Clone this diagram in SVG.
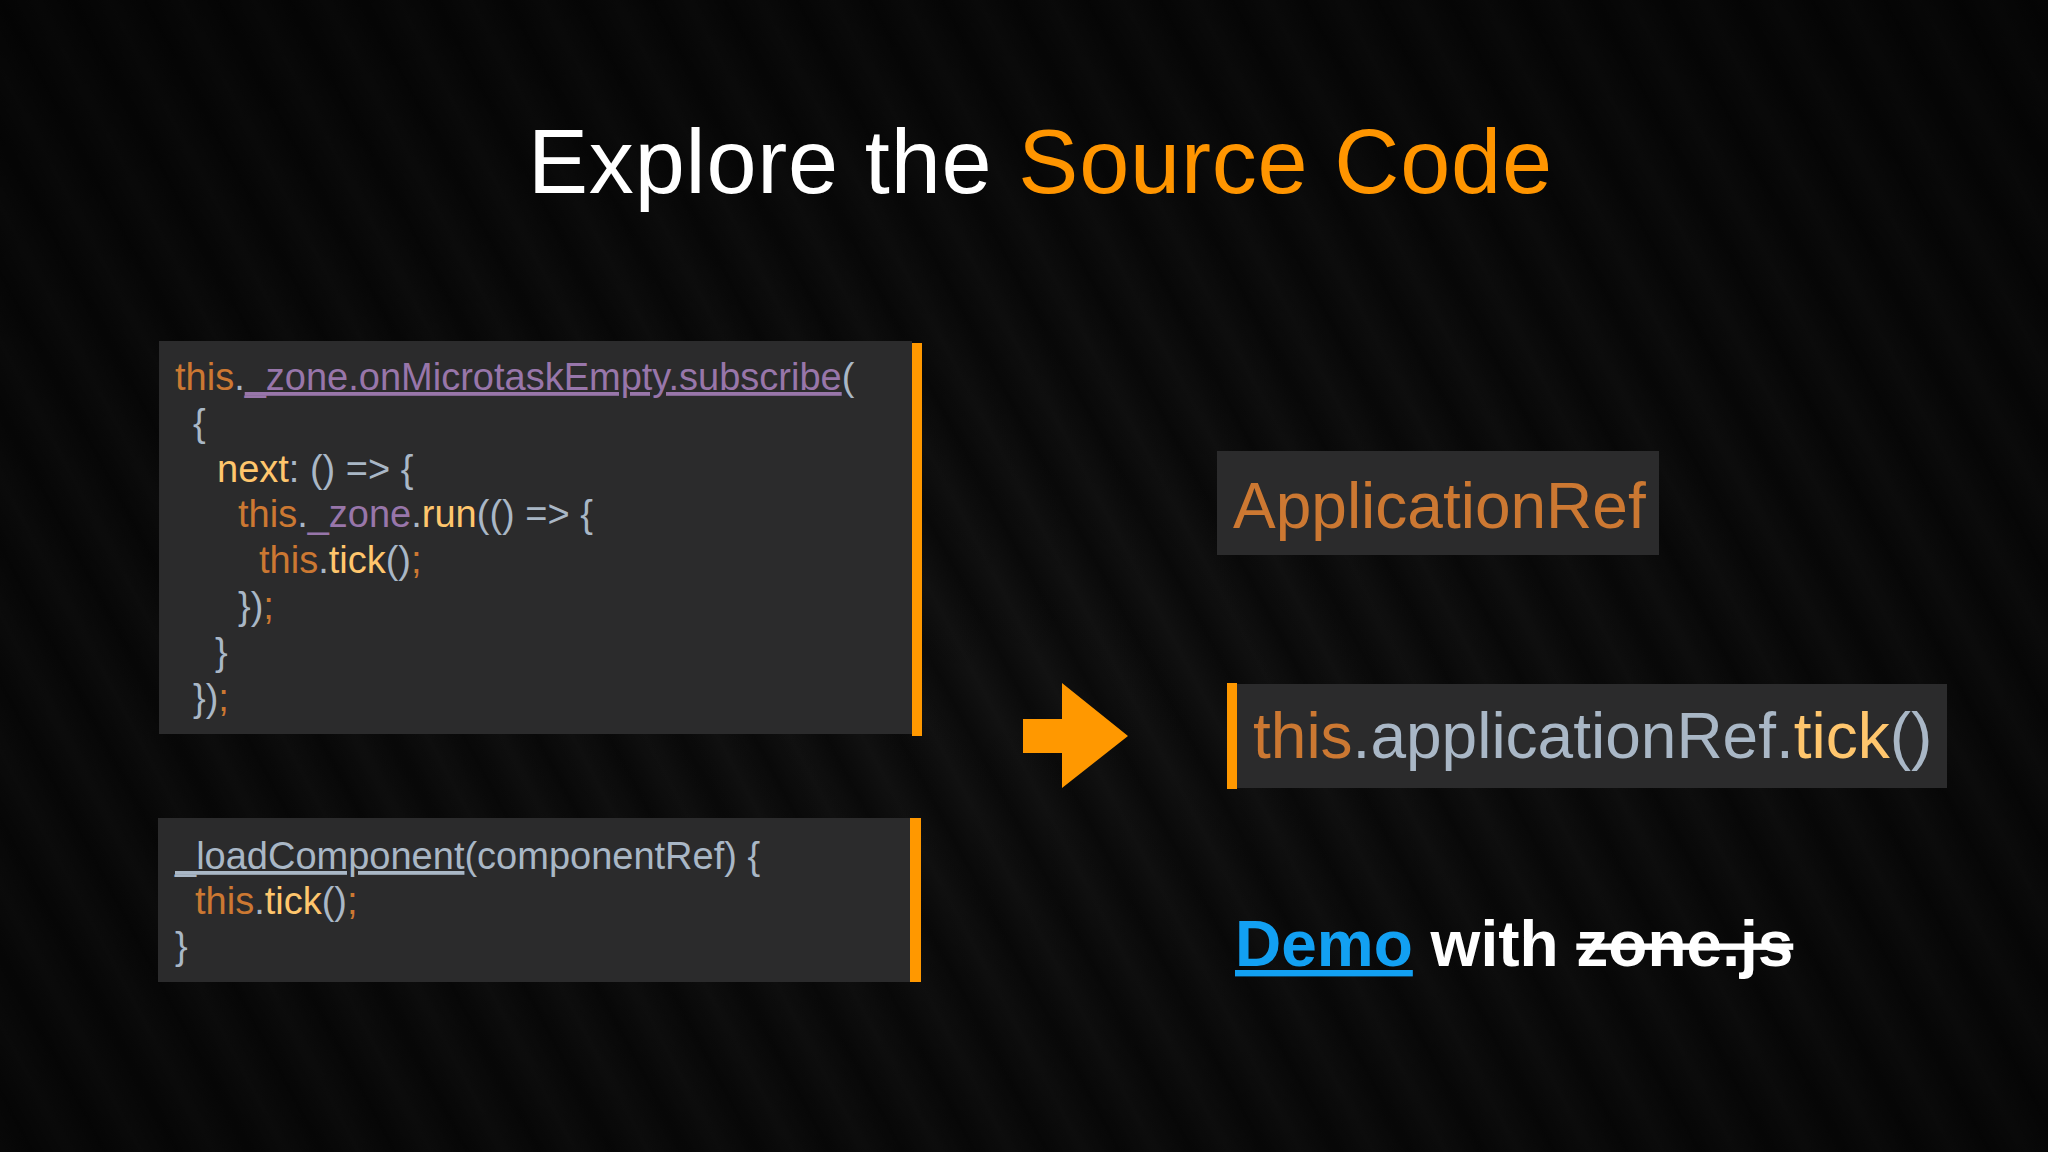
<svg xmlns="http://www.w3.org/2000/svg" width="2048" height="1152" viewBox="0 0 2048 1152">
  <defs>
    <linearGradient id="stripeGrad" x1="0" y1="0" x2="1" y2="0">
      <stop offset="0" stop-color="#0a0a0a"/>
      <stop offset="0.5" stop-color="#121212"/>
      <stop offset="1" stop-color="#0a0a0a"/>
    </linearGradient>
    <pattern id="stripes" patternUnits="userSpaceOnUse" width="64" height="64" patternTransform="rotate(-28)">
      <rect x="0" y="0" width="64" height="64" fill="url(#stripeGrad)"/>
    </pattern>
    <radialGradient id="vignette" cx="0.5" cy="0.6" r="0.75">
      <stop offset="0" stop-color="#000" stop-opacity="0"/>
      <stop offset="1" stop-color="#000" stop-opacity="0.6"/>
    </radialGradient>
    <style>
      .code { font-family: "Liberation Sans", Arial, sans-serif; font-size: 38px; fill: #a9b7c6; }
      .big { font-family: "Liberation Sans", Arial, sans-serif; font-size: 64px; fill: #a9b7c6; }
      .kw { fill: #cc7832; }
      .pu { fill: #9876aa; }
      .fn { fill: #ffc66d; }
      .df { fill: #a9b7c6; }
      .ul { text-decoration: underline; }
      .box { fill: #2b2b2c; }
      .bar { fill: #ff9800; }
    </style>
  </defs>

  <rect x="0" y="0" width="2048" height="1152" fill="#0b0b0b"/>
  <rect x="0" y="0" width="2048" height="1152" fill="url(#stripes)"/>
  <rect x="0" y="0" width="2048" height="1152" fill="url(#vignette)"/>

  <g id="title">
    <text x="528" y="193" textLength="1024" lengthAdjust="spacing" font-family="Liberation Sans, Arial, sans-serif" font-size="90" fill="#ffffff">Explore the <tspan fill="#ff9500">Source Code</tspan></text>
  </g>

  <g id="code-subscribe">
    <rect class="box" x="159" y="341" width="753" height="393"/>
    <rect class="bar" x="912" y="343" width="10" height="393"/>
    <text class="code" x="175" y="390"><tspan class="kw">this</tspan>.<tspan class="pu ul">_zone.onMicrotaskEmpty.subscribe</tspan>(</text>
    <text class="code" x="193" y="436">{</text>
    <text class="code" x="217" y="482"><tspan class="fn">next</tspan>: () =&gt; {</text>
    <text class="code" x="238" y="527"><tspan class="kw">this</tspan>.<tspan class="pu">_zone</tspan>.<tspan class="fn">run</tspan>(() =&gt; {</text>
    <text class="code" x="259" y="573"><tspan class="kw">this</tspan>.<tspan class="fn">tick</tspan>()<tspan class="kw">;</tspan></text>
    <text class="code" x="238" y="619">})<tspan class="kw">;</tspan></text>
    <text class="code" x="215" y="665">}</text>
    <text class="code" x="193" y="711">})<tspan class="kw">;</tspan></text>
  </g>

  <g id="code-loadcomponent">
    <rect class="box" x="158" y="818" width="752" height="164"/>
    <rect class="bar" x="910" y="818" width="11" height="164"/>
    <text class="code" x="175" y="869"><tspan class="ul">_loadComponent</tspan>(componentRef) {</text>
    <text class="code" x="195" y="914"><tspan class="kw">this</tspan>.<tspan class="fn">tick</tspan>()<tspan class="kw">;</tspan></text>
    <text class="code" x="175" y="959">}</text>
  </g>

  <g id="connectors">
    <polygon points="1023,719 1062,719 1062,683 1128,736 1062,788 1062,753 1023,753" fill="#ff9800"/>
  </g>

  <g id="application-ref">
    <rect class="box" x="1217" y="451" width="442" height="104"/>
    <text class="big" x="1233" y="528"><tspan class="kw">ApplicationRef</tspan></text>
  </g>

  <g id="tick-call">
    <rect class="box" x="1237" y="684" width="710" height="104"/>
    <rect class="bar" x="1227" y="683" width="10" height="106"/>
    <text class="big" x="1253" y="758"><tspan class="kw">this</tspan>.applicationRef.<tspan class="fn">tick</tspan>()</text>
  </g>

  <g id="demo">
    <text x="1235" y="966" font-family="Liberation Sans, Arial, sans-serif" font-weight="bold" font-size="64" fill="#ffffff"><tspan fill="#12a0f2" text-decoration="underline">Demo</tspan> with <tspan text-decoration="line-through">zone.js</tspan></text>
  </g>
</svg>
